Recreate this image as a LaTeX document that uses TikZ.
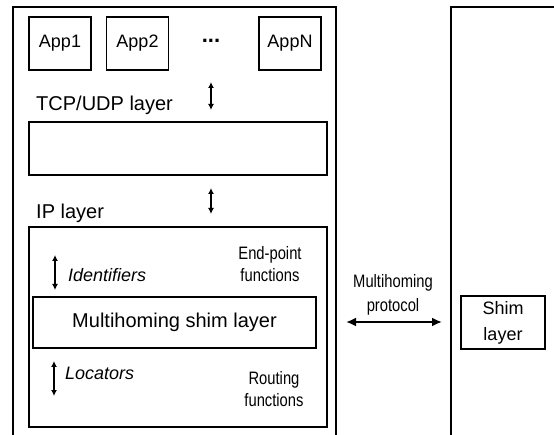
\documentclass[tikz,border=0pt]{standalone}
\usepackage{fontspec}
\setmainfont{Liberation Sans}
\newfontfamily\narrowfont[FakeStretch=0.82]{Liberation Sans}
\usetikzlibrary{arrows.meta}
\begin{document}
\begin{tikzpicture}[x=1pt,y=-1pt,
  outer/.style={line width=1.1pt},
  box/.style={draw,line width=1.5pt},
  appbox/.style={draw,line width=1.5pt,minimum width=62pt,minimum height=53pt,inner sep=0pt,font=\fontsize{18}{20}\selectfont},
  mainlbl/.style={font=\fontsize{20}{22}\selectfont,inner sep=0pt},
  itlbl/.style={font=\fontsize{18}{20}\selectfont\itshape,inner sep=0pt,anchor=west},
  narrowlbl/.style={font=\fontsize{18}{22}\narrowfont,align=center,inner sep=0pt},
  vdarrow/.style={{Latex[length=6pt,width=6pt]}-{Latex[length=6pt,width=6pt]},line width=1.3pt},
  hdarrow/.style={{Latex[length=10pt,width=9pt]}-{Latex[length=10pt,width=9pt]},line width=2.5pt}]
\useasboundingbox (0,0) rectangle (554,435);
% outer hosts
\draw[outer] (13,436) -- (13,7) -- (336,7) -- (336,436);
\draw[outer] (451,436) -- (451,7) -- (556,7);
% apps
\node[appbox] (app1) at (60,43.5) {App1};
\node[appbox] (app2) at (137.5,43.5) {App2};
\node[font=\fontsize{22}{22}\selectfont\bfseries,inner sep=0pt] (dots) at (211,41) {...};
\node[appbox] (appn) at (290,43.5) {AppN};
% tcp
\coordinate (a1t) at (211,82);
\coordinate (a1b) at (211,110);
\draw[vdarrow] (a1t) -- (a1b);
\node[mainlbl,anchor=base west] (tcplbl) at (36,111) {TCP/UDP layer};
\draw[box] (29,122) rectangle (327,175);
\node[inner sep=0pt,minimum width=298pt,minimum height=53pt] (tcpbox) at (178,148.5) {};
% ip
\coordinate (a2t) at (211,188);
\coordinate (a2b) at (211,214);
\draw[vdarrow] (a2t) -- (a2b);
\node[mainlbl,anchor=base west] (iplbl) at (36,219) {IP layer};
\draw[box] (29,227) rectangle (327,427);
\node[draw,line width=1.5pt,minimum width=283pt,minimum height=51pt,inner sep=0pt,font=\fontsize{20}{22}\selectfont] (shim) at (174.5,322.5) {Multihoming shim layer};
% identifiers
\coordinate (idt) at (55,255);
\coordinate (idb) at (55,290);
\draw[vdarrow] (idt) -- (idb);
\node[itlbl] (idlbl) at (68,275) {Identifiers};
\node[narrowlbl] (ep) at (270,264) {End-point\\functions};
% locators
\coordinate (lot) at (54,361);
\coordinate (lob) at (54,396);
\draw[vdarrow] (lot) -- (lob);
\node[itlbl] (lolbl) at (65,373) {Locators};
\node[narrowlbl] (rf) at (274,389) {Routing\\functions};
% protocol
\coordinate (pl) at (346,322);
\coordinate (pr) at (442,322);
\draw[hdarrow] (pl) -- (pr);
\node[narrowlbl,font=\fontsize{18}{24}\narrowfont] (proto) at (393,295) {Multihoming\\protocol};
\node[draw,line width=1.5pt,minimum width=84pt,minimum height=53pt,inner sep=0pt,align=center,font=\fontsize{18}{26}\selectfont] (shim2) at (503,322.5) {Shim\\layer};
\end{tikzpicture}
\end{document}
